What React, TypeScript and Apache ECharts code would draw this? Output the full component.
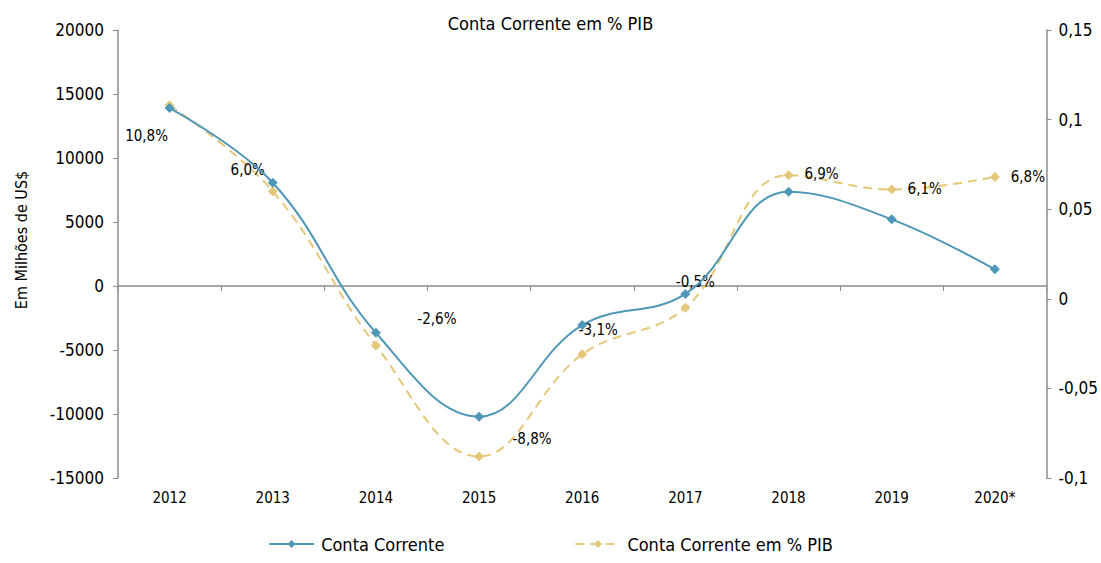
import React, { useEffect, useRef } from "react";
import * as echarts from "echarts";

const categories = ["2012", "2013", "2014", "2015", "2016", "2017", "2018", "2019", "2020*"];
const contaCorrente = [13900, 8070, -3650, -10210, -3050, -620, 7370, 5210, 1300];
const contaCorrentePib = [0.108, 0.06, -0.026, -0.088, -0.031, -0.005, 0.069, 0.061, 0.068];
const leftTicks = { min: -15000, max: 20000, interval: 5000 };
const rightTicks = { min: -0.1, max: 0.15, interval: 0.05 };

const FONT = "'Liberation Sans Narrow', 'DejaVu Sans Condensed', 'Arial Narrow', sans-serif";
const BLUE = "#4F97B7";
const YELLOW = "#E5C77A";
// label offsets (pixels) for the % labels, per point
const labelOffsets: [number, number][] = [
  [-23, 31],
  [-25, -21],
  [61, -26],
  [53, -17],
  [16, -24],
  [10, -26],
  [33, -1],
  [33, 0],
  [33, 0],
];

const fmtPct = (v: number) => (v * 100).toFixed(1).replace(".", ",") + "%";
const fmtRight = (v: number) => {
  const r = Math.round(v * 100) / 100;
  return String(r === 0 ? 0 : r).replace(".", ",");
};
const fmtLeft = (v: number) => String(Math.round(v));

export default function App() {
  const ref = useRef<HTMLDivElement>(null);
  useEffect(() => {
    if (!ref.current) return;
    const chart = echarts.init(ref.current, undefined, { renderer: "svg" });
    chart.setOption({
      animation: false,
      backgroundColor: "#ffffff",
      textStyle: { fontFamily: FONT, color: "#000" },
      title: {
        text: "Conta Corrente em % PIB",
        left: "center",
        top: 9,
        textStyle: { fontFamily: FONT, fontSize: 18, fontWeight: "normal", color: "#000" },
      },
      graphic: [
        {
          type: "text",
          x: 21,
          y: 240,
          rotation: Math.PI / 2,
          style: {
            text: "Em Milhões de US$",
            fontFamily: FONT,
            fontSize: 16,
            fill: "#000",
            align: "center",
            verticalAlign: "middle",
          },
        },
      ],
      legend: {
        bottom: 5,
        left: "center",
        itemGap: 130,
        itemWidth: 45,
        itemHeight: 10,
        textStyle: { fontFamily: FONT, fontSize: 18, color: "#000", padding: [0, 0, 0, 2] },
        data: ["Conta Corrente", "Conta Corrente em % PIB"],
      },
      grid: { left: 118, right: 54, top: 30, bottom: 85, containLabel: false },
      xAxis: [
        {
          type: "category",
          data: categories,
          position: "bottom",
          axisLine: { show: false, onZero: false },
          axisTick: { show: false },
          axisLabel: { fontFamily: FONT, fontSize: 15, color: "#000", margin: 12 },
        },
        {
          type: "category",
          data: categories,
          position: "bottom",
          axisLine: { show: true, onZero: true, onZeroAxisIndex: 0, lineStyle: { color: "#8c8c8c", width: 1.5 } },
          axisTick: { show: true, length: 5, lineStyle: { color: "#8c8c8c" } },
          axisLabel: { show: false },
        },
      ],
      yAxis: [
        {
          type: "value",
          min: leftTicks.min,
          max: leftTicks.max,
          interval: leftTicks.interval,
          axisLine: { show: true, lineStyle: { color: "#8c8c8c", width: 1.5 } },
          axisTick: { show: true, length: 5, lineStyle: { color: "#8c8c8c" } },
          splitLine: { show: false },
          axisLabel: { fontFamily: FONT, fontSize: 17, color: "#000", margin: 14, formatter: fmtLeft },
        },
        {
          type: "value",
          position: "right",
          min: rightTicks.min,
          max: rightTicks.max,
          interval: rightTicks.interval,
          axisLine: { show: true, lineStyle: { color: "#8c8c8c", width: 1.5 } },
          axisTick: { show: true, length: 5, lineStyle: { color: "#8c8c8c" } },
          splitLine: { show: false },
          axisLabel: { fontFamily: FONT, fontSize: 17, color: "#000", margin: 12, formatter: fmtRight },
        },
      ],
      series: [
        {
          name: "Conta Corrente",
          type: "line",
          xAxisIndex: 0,
          yAxisIndex: 0,
          data: contaCorrente,
          smooth: 0.4,
          symbol: "diamond",
          symbolSize: 10,
          itemStyle: { color: BLUE },
          lineStyle: { color: BLUE, width: 2 },
          z: 3,
        },
        {
          name: "Conta Corrente em % PIB",
          type: "line",
          xAxisIndex: 0,
          yAxisIndex: 1,
          data: contaCorrentePib.map((v, i) => ({
            value: v,
            label: { offset: labelOffsets[i] },
          })),
          smooth: 0.4,
          symbol: "diamond",
          symbolSize: 10,
          itemStyle: { color: YELLOW },
          lineStyle: { color: YELLOW, width: 2, type: [9, 6] },
          label: {
            show: true,
            position: "inside",
            fontFamily: FONT,
            fontSize: 15,
            color: "#000",
            formatter: (p: any) => fmtPct(p.value),
          },
          z: 2,
        },
      ],
    });
    return () => chart.dispose();
  }, []);
  return <div ref={ref} style={{ position: "fixed", left: 0, top: 0, width: 1101, height: 563 }} />;
}
